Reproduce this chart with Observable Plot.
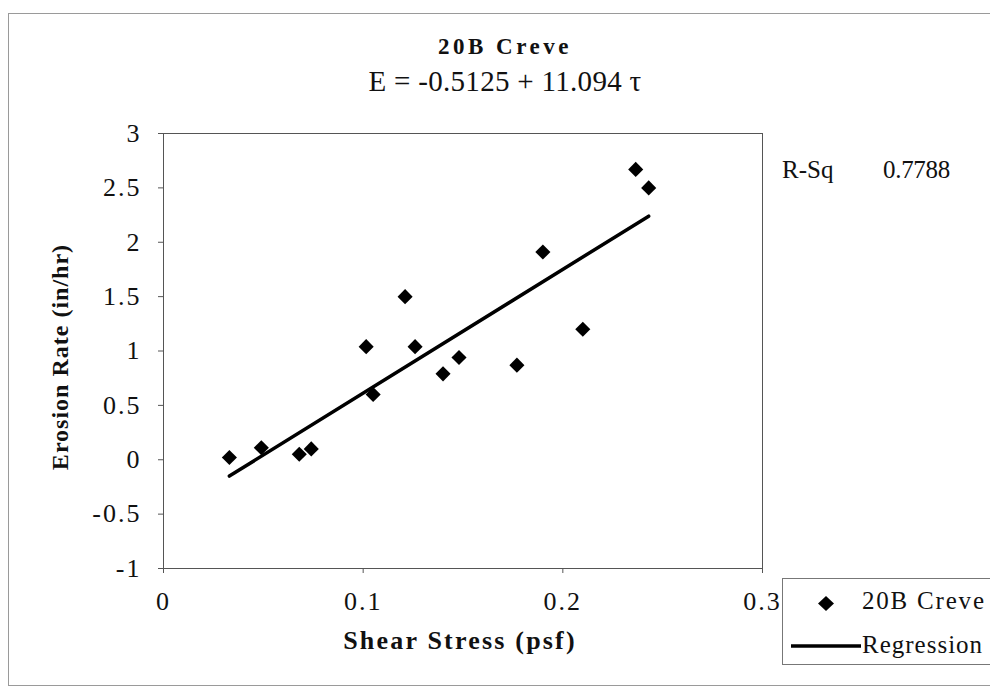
<!DOCTYPE html>
<html><head><meta charset="utf-8">
<script src="https://cdn.jsdelivr.net/npm/d3@7"></script>
<script src="https://cdn.jsdelivr.net/npm/@observablehq/plot@0.6"></script>
<style>
body{margin:0;background:#fff;}
#wrap{position:relative;width:990px;height:698px;overflow:hidden;color:#111;}
#border{position:absolute;left:8px;top:13px;width:1010px;height:673px;border:1.5px solid #9a9a9a;box-sizing:border-box;}
#chart{position:absolute;left:0;top:0;}
.t{position:absolute;white-space:nowrap;line-height:1;}
#title{left:255px;width:500px;top:35px;text-align:center;font-size:23px;font-weight:bold;letter-spacing:3.5px;}
#subtitle{left:255px;width:500px;top:66.7px;text-align:center;font-size:29px;letter-spacing:0.3px;}
#rsq{left:782px;top:157px;font-size:25px;}
#rsqv{left:883px;top:157px;font-size:25px;letter-spacing:-0.3px;}
#xlabel{left:260px;width:400px;top:628px;text-align:center;font-size:26px;font-weight:bold;letter-spacing:2.2px;}
#ylabel{left:-90px;width:300px;top:345px;text-align:center;font-size:24px;font-weight:bold;letter-spacing:1px;transform:rotate(-90deg);transform-origin:150px 12px;}
#legend{position:absolute;left:782px;top:578px;width:240px;height:87px;border:1.2px solid #777;box-sizing:border-box;background:#fff;}
#legend svg{position:absolute;left:0;top:0;}
#legend .lt{position:absolute;left:79px;font-size:25px;white-space:nowrap;line-height:1;}
svg text{fill:#111;}
g[aria-label="x-axis tick label"] text, g[aria-label="y-axis tick label"] text{letter-spacing:2px;}
</style>
</head><body>
<div id="wrap">
  <div id="border"></div>
  <div id="chart"></div>
  <div class="t" id="title"></div>
  <div class="t" id="subtitle"></div>
  <div class="t" id="rsq"></div>
  <div class="t" id="rsqv"></div>
  <div class="t" id="xlabel"></div>
  <div class="t" id="ylabel"></div>
  <div id="legend"></div>
</div>
<script>
// ---- data ----
const shearStress = [0.033, 0.049, 0.068, 0.074, 0.1015, 0.105, 0.121, 0.126, 0.140, 0.148, 0.177, 0.190, 0.210, 0.2365, 0.243];
const erosionRate = [0.02, 0.11, 0.05, 0.10, 1.04, 0.60, 1.50, 1.04, 0.79, 0.94, 0.87, 1.91, 1.20, 2.67, 2.50];
const regressionX = [0.033, 0.243];
const regressionY = [-0.15, 2.24];
const xTicks = [0, 0.1, 0.2, 0.3];
const yTicks = [-1, -0.5, 0, 0.5, 1, 1.5, 2, 2.5, 3];
const titleText = "20B Creve";
const subtitleText = "E = -0.5125 + 11.094 \u03c4";
const rsqLabel = "R-Sq";
const rsqValue = "0.7788";
const seriesName = "20B Creve";
const regressionName = "Regression";
const xLabel = "Shear Stress (psf)";
const yLabel = "Erosion Rate (in/hr)";

// pick an installed Times-like serif font
function hasFont(name) {
  const c = document.createElement("canvas").getContext("2d");
  const s = "abcdefghijklmnopqrstuvwxyzABCDEFGHIJ0123456789.-()";
  c.font = "72px monospace"; const a = c.measureText(s).width;
  c.font = `72px "${name}", monospace`; const b = c.measureText(s).width;
  return a !== b;
}
const fontChoices = ["Liberation Serif", "Times New Roman", "Tinos", "Nimbus Roman", "DejaVu Serif", "Noto Serif"];
const serif = fontChoices.find(hasFont);
const family = serif ? `"${serif}", serif` : "serif";
document.getElementById("wrap").style.fontFamily = family;

const points = shearStress.map((x, i) => ({x, y: erosionRate[i]}));
const regression = regressionX.map((x, i) => ({x, y: regressionY[i]}));

const chart = Plot.plot({
  width: 990, height: 698,
  marginLeft: 163, marginRight: 228, marginTop: 133, marginBottom: 130,
  style: {fontFamily: family, fontSize: "26px", color: "#111", background: "transparent", overflow: "visible"},
  x: {domain: [0, 0.3]},
  y: {domain: [-1, 3]},
  marks: [
    Plot.frame({stroke: "#555", strokeWidth: 1}),
    Plot.axisX({ticks: xTicks, tickFormat: d => String(d), label: null, tickSize: 5, tickPadding: 18, fontSize: 26, stroke: "#555"}),
    Plot.axisY({ticks: yTicks, tickFormat: d => String(d), label: null, tickSize: 5, tickPadding: 17, fontSize: 26, stroke: "#555"}),
    Plot.line(regression, {x: "x", y: "y", stroke: "#000", strokeWidth: 3.5}),
    Plot.dot(points, {x: "x", y: "y", symbol: "diamond2", r: 6.8, fill: "#000", stroke: "none"})
  ]
});
chart.querySelectorAll("text").forEach(t => { t.style.fontFamily = family; t.style.fontSize = "26px"; });
document.getElementById("chart").appendChild(chart);

document.getElementById("title").textContent = titleText;
document.getElementById("subtitle").textContent = subtitleText;
document.getElementById("rsq").textContent = rsqLabel;
document.getElementById("rsqv").textContent = rsqValue;
document.getElementById("xlabel").textContent = xLabel;
document.getElementById("ylabel").textContent = yLabel;

const leg = document.getElementById("legend");
leg.innerHTML = `<svg width="240" height="87">
  <path d="M43,17 L51,24.5 L43,32 L35,24.5 Z" fill="#000"/>
  <line x1="8" y1="67" x2="78" y2="67" stroke="#000" stroke-width="3.5"/>
</svg>
<div class="lt" style="top:9px;letter-spacing:1.8px">${seriesName}</div>
<div class="lt" style="top:53px;letter-spacing:1px">${regressionName}</div>`;
</script>
</body></html>
